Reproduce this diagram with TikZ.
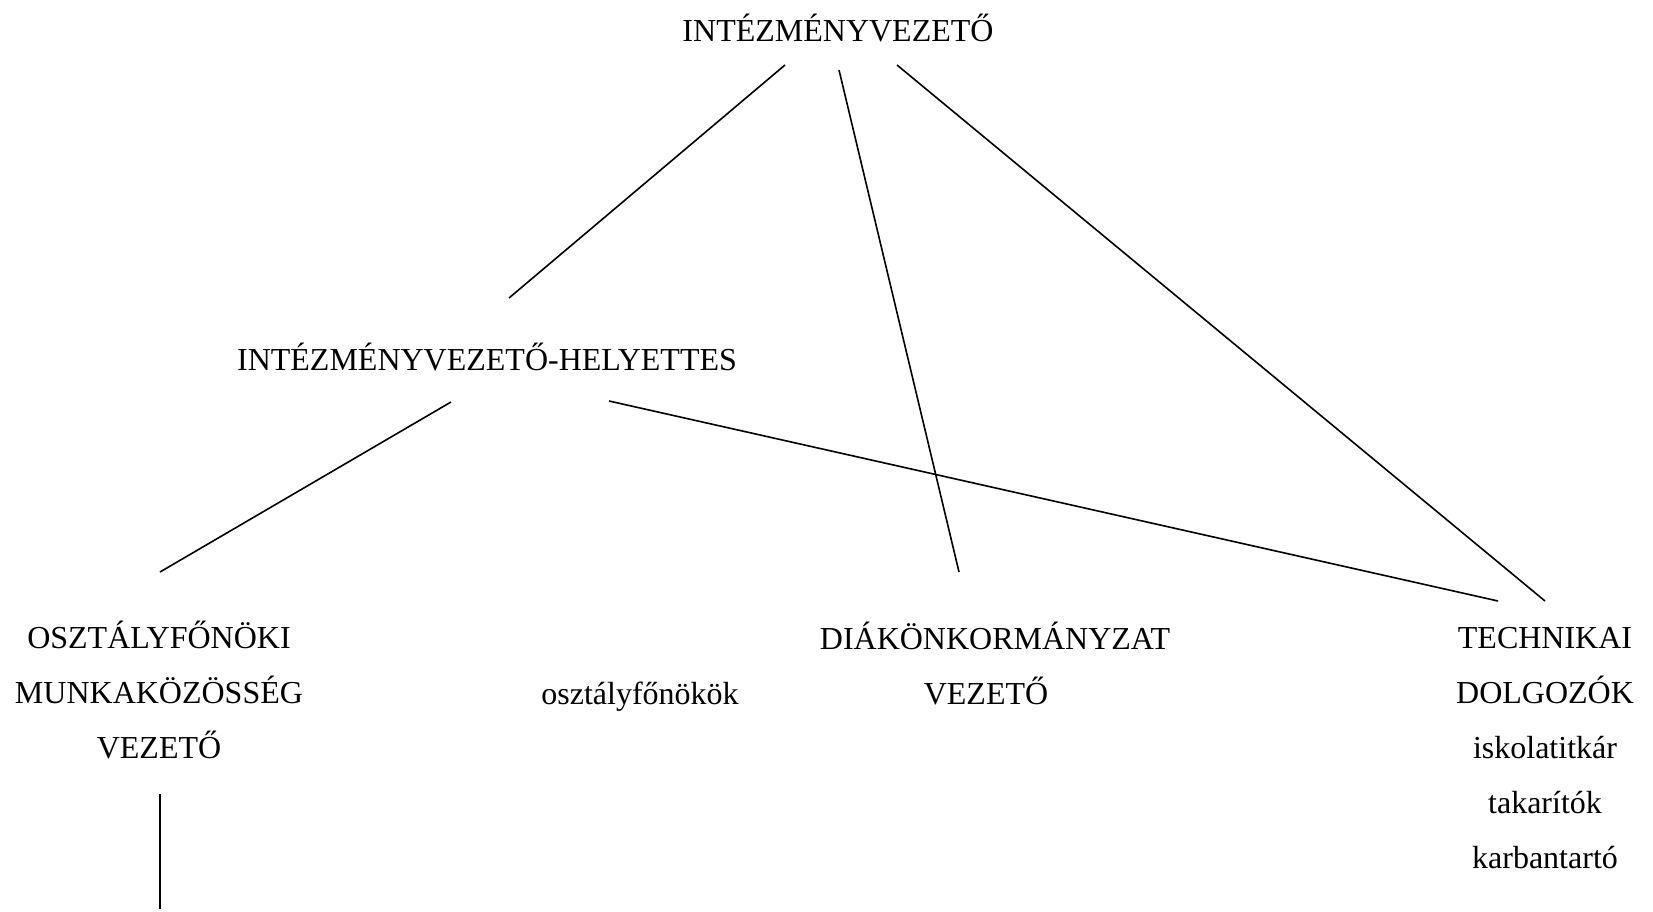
\documentclass[tikz,border=0pt]{standalone}
\usepackage{fontspec}
\setmainfont{Liberation Serif}
\usepackage{tikz}

\begin{document}
\begin{tikzpicture}[x=1pt,y=-1pt,line width=1.6pt,
	txt/.style={font=\fontsize{32}{55}\selectfont,inner sep=0pt,anchor=base,align=center}]
\useasboundingbox (0,0) rectangle (1653,911);

\node[txt] (vez) at (838,41) {INTÉZMÉNYVEZETŐ};
\node[txt] (hely) at (487,370) {INTÉZMÉNYVEZETŐ-HELYETTES};
\node[txt] (ofmk) at (159,758) {OSZTÁLYFŐNÖKI\\MUNKAKÖZÖSSÉG\\VEZETŐ};
\node[txt] (ofok) at (640,704) {osztályfőnökök};
\node[txt] (dok) at (995,704) {DIÁKÖNKORMÁNYZAT\\VEZETŐ\hspace*{18pt}};
\node[txt] (tech) at (1545,868) {TECHNIKAI\\DOLGOZÓK\\iskolatitkár\\takarítók\\karbantartó};

\coordinate (vez-a) at (785,65);
\coordinate (vez-b) at (839,70);
\coordinate (vez-c) at (897,65);
\coordinate (hely-t) at (509,298);
\coordinate (hely-a) at (451,402);
\coordinate (hely-b) at (609,401);
\coordinate (ofmk-t) at (160,572);
\coordinate (dok-t) at (959,572);
\coordinate (tech-a) at (1498,601);
\coordinate (tech-b) at (1545,601);
\coordinate (ofmk-b) at (160,794);
\coordinate (ofmk-e) at (160,909);

\draw (vez-a)--(hely-t);
\draw (vez-b)--(dok-t);
\draw (vez-c)--(tech-b);
\draw (hely-a)--(ofmk-t);
\draw (hely-b)--(tech-a);
\draw (ofmk-b)--(ofmk-e);

\end{tikzpicture}
\end{document}
